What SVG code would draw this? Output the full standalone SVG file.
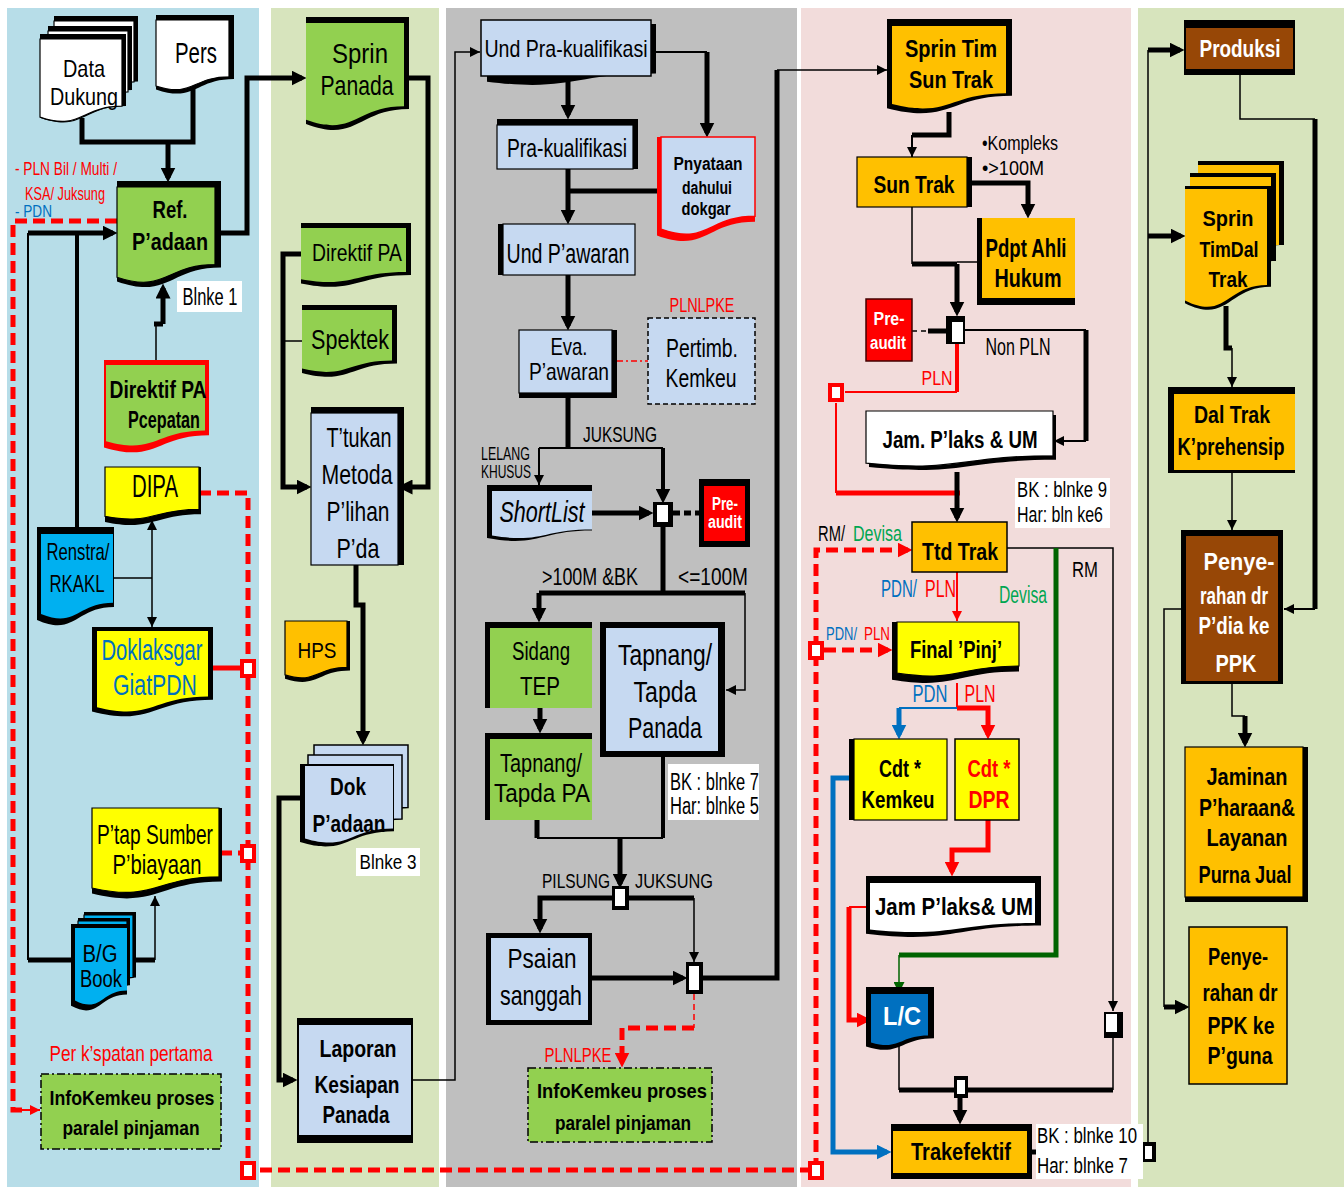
<svg xmlns="http://www.w3.org/2000/svg" width="1344" height="1187" viewBox="0 0 1344 1187">
<defs>
<style>
text{font-family:"Liberation Sans",Arial,Helvetica,sans-serif;text-anchor:middle;fill:#000}
.b{font-weight:bold}
.i{font-style:italic}
.s{text-anchor:start}
.tw{fill:#fff}
.tr{fill:#f00}
.tb{fill:#0070c0}
.tg{fill:#00a651}
.K{fill:#000}
.R{fill:#f00}
.gr{fill:#92d050}
.lb{fill:#c6d9f1}
.ye{fill:#ff0}
.or{fill:#ffc000}
.cy{fill:#00b0f0}
.bl{fill:#0070c0}
.br{fill:#974706}
.wh{fill:#fff}
.st{stroke:#000;stroke-width:1.2}
.sr{stroke:#f00;stroke-width:1.5}
.dd{stroke:#000;stroke-width:1.5;stroke-dasharray:8 3 2 3}
.dsh{stroke:#000;stroke-width:1.5;stroke-dasharray:5 3}
.c5,.c4,.c2,.c1,.kd5,.kd1{fill:none;stroke:#000}
.c5{stroke-width:5}.c4{stroke-width:4}.c2{stroke-width:2}.c1{stroke-width:1.5}
.kd5{stroke-width:5;stroke-dasharray:7 4}.kd1{stroke-width:1.5;stroke-dasharray:5 4}
.r5,.r4,.r2,.rd5,.rd1,.rdd{fill:none;stroke:#f00}
.r5{stroke-width:5}.r4{stroke-width:4}.r2{stroke-width:2}.rd5{stroke-width:5;stroke-dasharray:12 6}.rd1{stroke-width:1.5;stroke-dasharray:6 4}.rdd{stroke-width:1.5;stroke-dasharray:6 3 2 3}
.u5,.u2{fill:none;stroke:#0070c0}.u5{stroke-width:5}.u2{stroke-width:2}
.g5,.g2{fill:none;stroke:#006400}.g5{stroke-width:5}.g2{stroke-width:1.5}
.jr{fill:#fff;stroke:#f00;stroke-width:4}
.lbl{fill:#fff}
</style>
<marker id="ak" viewBox="0 0 10 10" refX="7" refY="5" markerWidth="15" markerHeight="15" markerUnits="userSpaceOnUse" orient="auto"><path d="M0 0L10 5L0 10z" fill="#000"/></marker>
<marker id="as" viewBox="0 0 10 10" refX="10" refY="5" markerWidth="10" markerHeight="10" markerUnits="userSpaceOnUse" orient="auto"><path d="M0 0L10 5L0 10z" fill="#000"/></marker>
<marker id="asd" viewBox="0 0 10 10" refX="10" refY="5" markerWidth="10" markerHeight="10" markerUnits="userSpaceOnUse" orient="auto-start-reverse"><path d="M0 0L10 5L0 10z" fill="#000"/></marker>
<marker id="ar" viewBox="0 0 10 10" refX="7" refY="5" markerWidth="15" markerHeight="15" markerUnits="userSpaceOnUse" orient="auto"><path d="M0 0L10 5L0 10z" fill="#f00"/></marker>
<marker id="ars" viewBox="0 0 10 10" refX="10" refY="5" markerWidth="10" markerHeight="10" markerUnits="userSpaceOnUse" orient="auto"><path d="M0 0L10 5L0 10z" fill="#f00"/></marker>
<marker id="ab" viewBox="0 0 10 10" refX="7" refY="5" markerWidth="15" markerHeight="15" markerUnits="userSpaceOnUse" orient="auto"><path d="M0 0L10 5L0 10z" fill="#0070c0"/></marker>
<marker id="ag" viewBox="0 0 10 10" refX="10" refY="5" markerWidth="11" markerHeight="11" markerUnits="userSpaceOnUse" orient="auto"><path d="M0 0L10 5L0 10z" fill="#006400"/></marker>
</defs>

<g id="lanes">
<rect x="7" y="8" width="252" height="1179" fill="#b7dde8"/>
<rect x="271" y="8" width="168" height="1179" fill="#d7e4bd"/>
<rect x="446" y="8" width="351" height="1179" fill="#bfbfbf"/>
<rect x="801" y="8" width="330" height="1179" fill="#f2dcdb"/>
<rect x="1138" y="8" width="206" height="1179" fill="#d7e4bd"/>
</g>

<g id="connectors">
<!-- column 1 -->
<path class="c5" d="M82 118V142H193V86"/>
<path class="c5" d="M168 142V178" marker-end="url(#ak)"/>
<path class="c5" d="M220 233H247V78H302" marker-end="url(#ak)"/>
<path class="c2" d="M28 960V233"/>
<path class="c5" d="M28 233H113" marker-end="url(#ak)"/>
<path class="c4" d="M77 528V233"/>
<path class="c5" d="M28 960H72"/>
<path class="c5" d="M127 960H155"/>
<path class="c1" d="M155 960V896" marker-end="url(#as)"/>
<path class="c1" d="M156 362V324"/>
<path class="c5" d="M154 324H163"/>
<path class="c5" d="M163 324V288" marker-end="url(#ak)"/>
<path class="c1" d="M113 578H152"/>
<path class="c1" d="M152 520V627" marker-start="url(#asd)" marker-end="url(#asd)"/>
<path class="rd5" d="M117 221H13V1110H22"/>
<path class="r2" d="M22 1110H40" marker-end="url(#ars)"/>
<path class="rd5" d="M199 493H248V1170H816"/>
<path class="r5" d="M212 668H242"/>
<path class="rd5" d="M220 853H242"/>
<!-- column 2 -->
<path class="c5" d="M404 78H428V487H402" marker-end="url(#ak)"/>
<path class="c5" d="M301 254H283V487H307" marker-end="url(#ak)"/>
<path class="c1" d="M302 341H283"/>
<path class="c5" d="M356 565V605H363V741" marker-end="url(#ak)"/>
<path class="c5" d="M302 798H279V1080H293" marker-end="url(#ak)"/>
<path class="c1" d="M413 1080H455V52H480" marker-end="url(#as)"/>
<!-- column 3 -->
<path class="c5" d="M568 76V115" marker-end="url(#ak)"/>
<path class="c2" d="M651 52H707"/>
<path class="c5" d="M707 52V133" marker-end="url(#ak)"/>
<path class="c5" d="M568 169V220" marker-end="url(#ak)"/>
<path class="c5" d="M568 191H661"/>
<path class="c5" d="M568 275V326" marker-end="url(#ak)"/>
<path class="rdd" d="M617 361H648"/>
<path class="c5" d="M568 398V448"/>
<path class="c2" d="M539 448H663"/>
<path class="c2" d="M539 448V485" marker-end="url(#as)"/>
<path class="c4" d="M663 448V499" marker-end="url(#ak)"/>
<path class="c5" d="M592 513H649" marker-end="url(#ak)"/>
<path class="kd5" d="M673 513H700"/>
<path class="c5" d="M663 527V593"/>
<path class="c5" d="M539 593H745"/>
<path class="c5" d="M539 593V618" marker-end="url(#ak)"/>
<path class="c1" d="M745 593V690H726" marker-end="url(#as)"/>
<path class="c5" d="M540 708V729" marker-end="url(#ak)"/>
<path class="c5" d="M537 820V838"/>
<path class="c2" d="M537 838H663"/>
<path class="c4" d="M663 757V838"/>
<path class="c5" d="M620 838V884" marker-end="url(#ak)"/>
<path class="c5" d="M613 898H540V929" marker-end="url(#ak)"/>
<path class="c5" d="M627 898H694"/>
<path class="c1" d="M694 898V962" marker-end="url(#as)"/>
<path class="c5" d="M592 978H683" marker-end="url(#ak)"/>
<path class="c5" d="M703 978H777V70"/>
<path class="c1" d="M777 70H887" marker-end="url(#as)"/>
<path class="rd1" d="M694 994V1028"/>
<path class="rd5" d="M694 1028H622V1063" marker-end="url(#ar)"/>
<!-- column 4 -->
<path class="c5" d="M949 112V135H912"/>
<path class="c2" d="M912 135V157" marker-end="url(#as)"/>
<path class="c5" d="M972 183H1028V214" marker-end="url(#ak)"/>
<path class="c1" d="M912 207V264"/>
<path class="c5" d="M912 264H957"/>
<path class="c1" d="M957 262H977"/>
<path class="c5" d="M957 264V312" marker-end="url(#ak)"/>
<path class="kd1" d="M912 331H930"/>
<path class="c5" d="M928 331H946"/>
<path class="c2" d="M965 330H1086"/>
<path class="c5" d="M1086 330V441"/>
<path class="c2" d="M1086 441H1054" marker-end="url(#as)"/>
<path class="r4" d="M957 344V392"/>
<path class="r2" d="M957 392H845"/>
<path class="r2" d="M836 403V493"/>
<path class="r5" d="M836 493H960"/>
<path class="c5" d="M957 472V518" marker-end="url(#ak)"/>
<path class="rd5" d="M816 1170V550H908" marker-end="url(#ar)"/>
<path class="rd5" d="M824 650H888" marker-end="url(#ar)"/>
<path class="r2" d="M957 572V621" marker-end="url(#ars)"/>
<path class="c1" d="M1007 548H1113V1011" marker-end="url(#as)"/>
<path class="g5" d="M1056 548V955H899"/>
<path class="g2" d="M899 955V993" marker-end="url(#ag)"/>
<path class="r2" d="M957 683V708"/>
<path class="u2" d="M957 708H899"/>
<path class="u5" d="M899 708V735" marker-end="url(#ab)"/>
<path class="r5" d="M957 708H988V735" marker-end="url(#ar)"/>
<path class="u5" d="M849 778H833V1152H887" marker-end="url(#ab)"/>
<path class="r5" d="M988 820V850H952V872" marker-end="url(#ar)"/>
<path class="r2" d="M870 907H849"/>
<path class="r5" d="M849 907V1020H867" marker-end="url(#ar)"/>
<path class="c1" d="M899 1046V1090"/>
<path class="c5" d="M899 1090H1113"/>
<path class="c1" d="M1113 1038V1090"/>
<path class="c5" d="M960 1098V1120" marker-end="url(#ak)"/>
<path class="c5" d="M1031 1152H1143"/>
<!-- column 5 -->
<path class="c1" d="M1148 1142V50"/>
<path class="c5" d="M1148 50H1180" marker-end="url(#ak)"/>
<path class="c5" d="M1148 236H1181" marker-end="url(#ak)"/>
<path class="c1" d="M1240 75V119H1315"/>
<path class="c5" d="M1315 119V609"/>
<path class="c2" d="M1315 609H1284" marker-end="url(#as)"/>
<path class="c5" d="M1226 306V348H1232"/>
<path class="c1" d="M1232 348V387" marker-end="url(#as)"/>
<path class="c1" d="M1232 473V530" marker-end="url(#as)"/>
<path class="c1" d="M1232 684V716H1245"/>
<path class="c5" d="M1245 716V743" marker-end="url(#ak)"/>
<path class="c1" d="M1181 609H1164V1007"/>
<path class="c5" d="M1164 1007H1185" marker-end="url(#ak)"/>
<!-- junctions -->
<rect class="jr" x="242" y="661" width="12" height="15"/>
<rect class="jr" x="242" y="846" width="12" height="15"/>
<rect class="jr" x="242" y="1163" width="12" height="15"/>
<rect class="jr" x="810" y="1163" width="12" height="15"/>
<rect class="jr" x="810" y="643" width="12" height="15"/>
<rect class="jr" x="830" y="385" width="12" height="15"/>
<rect x="653" y="502" width="20" height="25" fill="#000"/><rect x="657" y="505" width="11" height="17" fill="#fff"/>
<rect x="612" y="886" width="17" height="24" fill="#000"/><rect x="615" y="889" width="10" height="17" fill="#fff"/>
<rect x="686" y="962" width="17" height="32" fill="#000"/><rect x="689" y="966" width="10" height="24" fill="#fff"/>
<rect x="946" y="316" width="19" height="28" fill="#000"/><rect x="952" y="322" width="11" height="20" fill="#fff"/>
<rect x="1104" y="1012" width="19" height="26" fill="#000"/><rect x="1106" y="1014" width="11" height="18" fill="#fff"/>
<rect x="954" y="1076" width="14" height="22" fill="#000"/><rect x="957" y="1080" width="8" height="14" fill="#fff"/>
<rect x="1143" y="1142" width="13" height="20" fill="#000"/><rect x="1145" y="1146" width="7" height="13" fill="#fff"/>
</g>

<!-- ===== column 1 nodes ===== -->
<g id="n-datadukung">
<path class="K" d="M54 16h84v65.6c-42 0-42 24.6-84 10.7z"/>
<path class="wh st" d="M54 21h80v60.8c-40 0-40 22.8-80 9.9z"/>
<path class="K" d="M48 26h84v64c-42 0-42 24-84 10.4z"/>
<path class="wh st" d="M48 31h80v60.8c-40 0-40 22.8-80 9.9z"/>
<path class="K" d="M40 34h86v72c-43 0-43 27-86 11.7z"/>
<path class="wh st" d="M40 39h82v67.2c-41 0-41 25.2-82 10.9z"/>
<text x="84" y="77" font-size="24" textLength="42" lengthAdjust="spacingAndGlyphs">Data</text>
<text x="84" y="105" font-size="24" textLength="68" lengthAdjust="spacingAndGlyphs">Dukung</text>
</g>
<g id="n-pers">
<path class="K" d="M156 15h78v64c-39 0-39 24-78 10.4z"/>
<path class="wh st" d="M156 20h73v56.8c-36.5 0-36.5 21.3-73 9.2z"/>
<text x="196" y="63" font-size="29" textLength="42" lengthAdjust="spacingAndGlyphs">Pers</text>
</g>
<g id="n-ref">
<path class="K" d="M117 181h104v86.4c-52 0-52 32.4-104 14z"/>
<path class="gr st" d="M117 187h98v77.6c-49 0-49 29.1-98 12.6z"/>
<text class="b" x="170" y="218" font-size="23" textLength="35" lengthAdjust="spacingAndGlyphs">Ref.</text>
<text class="b" x="170" y="250" font-size="23" textLength="76" lengthAdjust="spacingAndGlyphs">P’adaan</text>
</g>
<g id="lbl-blnke1">
<rect class="lbl" x="177" y="281" width="65" height="31"/>
<text x="210" y="305" font-size="23" textLength="55" lengthAdjust="spacingAndGlyphs">Blnke 1</text>
</g>
<g id="lbl-pln">
<text class="s tr" x="15" y="175" font-size="19" textLength="102" lengthAdjust="spacingAndGlyphs">- PLN Bil / Multi /</text>
<text class="s tr" x="25" y="200" font-size="19" textLength="80" lengthAdjust="spacingAndGlyphs">KSA/ Juksung</text>
<text class="s tb" x="15" y="217" font-size="17" textLength="37" lengthAdjust="spacingAndGlyphs">- PDN</text>
</g>
<g id="n-direktif-pcepatan">
<path class="R" d="M104 360h105v75.2c-52.5 0-52.5 28.2-105 12.2z"/>
<path class="gr" d="M106 365h99v65.6c-49.5 0-49.5 24.6-99 10.7z"/>
<text class="b" x="158" y="398" font-size="24" textLength="97" lengthAdjust="spacingAndGlyphs">Direktif PA</text>
<text class="b" x="164" y="428" font-size="24" textLength="72" lengthAdjust="spacingAndGlyphs">Pcepatan</text>
</g>
<g id="n-dipa">
<path class="K" d="M105 467h96v47.2c-48 0-48 17.7-96 7.7z"/>
<path class="ye st" d="M105 467h94v42.4c-47 0-47 15.9-94 6.9z"/>
<text x="155" y="497" font-size="31" textLength="46" lengthAdjust="spacingAndGlyphs">DIPA</text>
</g>
<g id="n-renstra">
<path class="K" d="M37 527h77v80c-38.5 0-38.5 30-77 13z"/>
<path class="cy" d="M41 534h72v68.8c-36 0-36 25.8-72 11.2z"/>
<text x="78" y="560" font-size="24" textLength="63" lengthAdjust="spacingAndGlyphs">Renstra/</text>
<text x="77" y="592" font-size="24" textLength="55" lengthAdjust="spacingAndGlyphs">RKAKL</text>
</g>
<g id="n-doklaksgar">
<path class="K" d="M92 627h121v72.8c-60.5 0-60.5 27.3-121 11.8z"/>
<path class="ye" d="M97 631h111v65.6c-55.5 0-55.5 24.6-111 10.7z"/>
<text class="tb" x="152" y="660" font-size="29" textLength="101" lengthAdjust="spacingAndGlyphs">Doklaksgar</text>
<text class="tb" x="155" y="695" font-size="29" textLength="84" lengthAdjust="spacingAndGlyphs">GiatPDN</text>
</g>
<g id="n-ptap">
<path class="K" d="M92 808h130v73.6c-65 0-65 27.6-130 12z"/>
<path class="ye st" d="M92 808h127v68.8c-63.5 0-63.5 25.8-127 11.2z"/>
<text x="155" y="844" font-size="28" textLength="116" lengthAdjust="spacingAndGlyphs">P’tap Sumber</text>
<text x="157" y="874" font-size="28" textLength="89" lengthAdjust="spacingAndGlyphs">P’biayaan</text>
</g>
<g id="n-bgbook">
<path class="K" d="M84 912h52v65.6c-26 0-26 24.6-52 10.7z"/>
<path class="cy st" d="M84 915h49v62.4c-24.5 0-24.5 23.4-49 10.1z"/>
<path class="K" d="M78 918h52v67.2c-26 0-26 25.2-52 10.9z"/>
<path class="cy st" d="M78 921h49v64c-24.5 0-24.5 24-49 10.4z"/>
<path class="K" d="M71 924h56v70.4c-28 0-28 26.4-56 11.4z"/>
<path class="cy" d="M75 928h52v62.4c-26 0-26 23.4-52 10.1z"/>
<text x="100" y="962" font-size="23" textLength="35" lengthAdjust="spacingAndGlyphs">B/G</text>
<text x="101" y="987" font-size="23" textLength="42" lengthAdjust="spacingAndGlyphs">Book</text>
</g>
<g id="lbl-perkspatan">
<text class="tr" x="131" y="1061" font-size="22" textLength="163" lengthAdjust="spacingAndGlyphs">Per k’spatan pertama</text>
</g>
<g id="n-infokemkeu1">
<rect class="gr dd" x="41" y="1074" width="180" height="75"/>
<text class="b" x="132" y="1105" font-size="21" textLength="165" lengthAdjust="spacingAndGlyphs">InfoKemkeu proses</text>
<text class="b" x="131" y="1135" font-size="21" textLength="137" lengthAdjust="spacingAndGlyphs">paralel pinjaman</text>
</g>

<!-- ===== column 2 nodes ===== -->
<g id="n-sprinpanada">
<path class="K" d="M306 17h103v92c-51.5 0-51.5 34.5-103 15z"/>
<path class="gr" d="M306 23h98v83.2c-49 0-49 31.2-98 13.5z"/>
<text x="360" y="63" font-size="28" textLength="56" lengthAdjust="spacingAndGlyphs">Sprin</text>
<text x="357" y="95" font-size="28" textLength="73" lengthAdjust="spacingAndGlyphs">Panada</text>
</g>
<g id="n-direktifpa">
<path class="K" d="M301 223h110v52c-55 0-55 19.5-110 8.5z"/>
<path class="gr" d="M301 228h105v44c-52.5 0-52.5 16.5-105 7.2z"/>
<text x="357" y="261" font-size="24" textLength="90" lengthAdjust="spacingAndGlyphs">Direktif PA</text>
</g>
<g id="n-spektek">
<path class="K" d="M302 305h95v58.4c-47.5 0-47.5 21.9-95 9.5z"/>
<path class="gr" d="M302 310h90v50.4c-45 0-45 18.9-90 8.2z"/>
<text x="350" y="349" font-size="28" textLength="78" lengthAdjust="spacingAndGlyphs">Spektek</text>
</g>
<g id="n-ttukan">
<rect class="K" x="311" y="407" width="93" height="158"/>
<rect class="lb st" x="311" y="413" width="87" height="152"/>
<text x="359" y="447" font-size="28" textLength="65" lengthAdjust="spacingAndGlyphs">T’tukan</text>
<text x="357" y="484" font-size="28" textLength="71" lengthAdjust="spacingAndGlyphs">Metoda</text>
<text x="358" y="521" font-size="28" textLength="63" lengthAdjust="spacingAndGlyphs">P’lihan</text>
<text x="358" y="558" font-size="28" textLength="43" lengthAdjust="spacingAndGlyphs">P’da</text>
</g>
<g id="n-hps">
<path class="K" d="M285 621h65v49.6c-32.5 0-32.5 18.6-65 8.1z"/>
<path class="or st" d="M285 621h62v46.4c-31 0-31 17.4-62 7.5z"/>
<text x="317" y="658" font-size="22" textLength="39" lengthAdjust="spacingAndGlyphs">HPS</text>
</g>
<g id="n-dokpadaan">
<path class="lb" stroke="#000" stroke-width="1.5" d="M314 745h94v62.4c-47 0-47 23.4-94 10.1z"/>
<path class="lb" stroke="#000" stroke-width="1.5" d="M308 755h94v64c-47 0-47 24-94 10.4z"/>
<path class="K" d="M300 764h94v67.2c-47 0-47 25.2-94 10.9z"/>
<path class="lb" d="M305 766h88v62.4c-44 0-44 23.4-88 10.1z"/>
<text class="b" x="348" y="795" font-size="23" textLength="36" lengthAdjust="spacingAndGlyphs">Dok</text>
<text class="b" x="349" y="832" font-size="23" textLength="73" lengthAdjust="spacingAndGlyphs">P’adaan</text>
</g>
<g id="lbl-blnke3">
<rect class="lbl" x="356" y="848" width="64" height="28"/>
<text x="388" y="869" font-size="21" textLength="57" lengthAdjust="spacingAndGlyphs">Blnke 3</text>
</g>
<g id="n-laporan">
<rect class="K" x="297" y="1018" width="116" height="125"/>
<rect class="lb" x="299" y="1025" width="112" height="110"/>
<text class="b" x="358" y="1057" font-size="23" textLength="77" lengthAdjust="spacingAndGlyphs">Laporan</text>
<text class="b" x="357" y="1093" font-size="23" textLength="85" lengthAdjust="spacingAndGlyphs">Kesiapan</text>
<text class="b" x="356" y="1123" font-size="23" textLength="67" lengthAdjust="spacingAndGlyphs">Panada</text>
</g>

<!-- ===== column 3 nodes ===== -->
<g id="n-undpra">
<path class="K" d="M487 24h169v49.6c-84.5 0-84.5 18.6-169 8.1z"/>
<rect class="lb" stroke="#000" stroke-width="1.5" x="481" y="20" width="170" height="56"/>
<text x="566" y="57" font-size="24" textLength="163" lengthAdjust="spacingAndGlyphs">Und Pra-kualifikasi</text>
</g>
<g id="n-prakualifikasi">
<rect class="K" x="497" y="119" width="141" height="50"/>
<rect class="lb" stroke="#000" stroke-width="1.2" x="497" y="125" width="136" height="44"/>
<text x="567" y="157" font-size="26" textLength="120" lengthAdjust="spacingAndGlyphs">Pra-kualifikasi</text>
</g>
<g id="n-pnyataan">
<path class="R" d="M657 137h98v84.8c-49 0-49 31.8-98 13.8z"/>
<path class="lb sr" d="M661 137h94v79.2c-47 0-47 29.7-94 12.9z"/>
<text class="b" x="708" y="170" font-size="18" textLength="69" lengthAdjust="spacingAndGlyphs">Pnyataan</text>
<text class="b" x="707" y="194" font-size="18" textLength="50" lengthAdjust="spacingAndGlyphs">dahului</text>
<text class="b" x="706" y="215" font-size="18" textLength="49" lengthAdjust="spacingAndGlyphs">dokgar</text>
</g>
<g id="n-undpawaran">
<rect class="K" x="498" y="224" width="137" height="51"/>
<rect class="lb" stroke="#000" stroke-width="1.2" x="503" y="224" width="132" height="51"/>
<text x="568" y="263" font-size="27" textLength="123" lengthAdjust="spacingAndGlyphs">Und P’awaran</text>
</g>
<g id="n-evapawaran">
<rect class="K" x="519" y="330" width="98" height="68"/>
<rect class="lb" stroke="#000" stroke-width="1.2" x="519" y="330" width="93" height="63"/>
<text x="569" y="355" font-size="24" textLength="37" lengthAdjust="spacingAndGlyphs">Eva.</text>
<text x="569" y="380" font-size="24" textLength="80" lengthAdjust="spacingAndGlyphs">P’awaran</text>
</g>
<g id="n-pertimb">
<text class="tr" x="702" y="312" font-size="21" textLength="65" lengthAdjust="spacingAndGlyphs">PLNLPKE</text>
<rect class="lb dsh" x="648" y="318" width="107" height="86"/>
<text x="702" y="357" font-size="26" textLength="72" lengthAdjust="spacingAndGlyphs">Pertimb.</text>
<text x="701" y="387" font-size="26" textLength="71" lengthAdjust="spacingAndGlyphs">Kemkeu</text>
</g>
<g id="lbl-juksung1">
<text x="620" y="442" font-size="22" textLength="74" lengthAdjust="spacingAndGlyphs">JUKSUNG</text>
<text class="s" x="481" y="460" font-size="18" textLength="49" lengthAdjust="spacingAndGlyphs">LELANG</text>
<text class="s" x="481" y="478" font-size="18" textLength="50" lengthAdjust="spacingAndGlyphs">KHUSUS</text>
</g>
<g id="n-shortlist">
<path class="K" d="M487 485h105v45.6c-52.5 0-52.5 17.1-105 7.4z"/>
<path class="lb" d="M492 491h100v38.4c-50 0-50 14.4-100 6.2z"/>
<text class="i" x="542" y="522" font-size="30" textLength="85" lengthAdjust="spacingAndGlyphs">ShortList</text>
</g>
<g id="n-preaudit1">
<rect class="K" x="699" y="479" width="51" height="68"/>
<rect class="R" x="704" y="486" width="41" height="55"/>
<text class="b tw" x="725" y="510" font-size="18" textLength="26" lengthAdjust="spacingAndGlyphs">Pre-</text>
<text class="b tw" x="725" y="528" font-size="18" textLength="34" lengthAdjust="spacingAndGlyphs">audit</text>
</g>
<g id="lbl-100m">
<text x="590" y="585" font-size="23" textLength="96" lengthAdjust="spacingAndGlyphs">&gt;100M &amp;BK</text>
<text x="713" y="585" font-size="23" textLength="70" lengthAdjust="spacingAndGlyphs">&lt;=100M</text>
</g>
<g id="n-sidangtep">
<rect class="K" x="485" y="622" width="107" height="86"/>
<rect class="gr" x="490" y="628" width="102" height="80"/>
<text x="541" y="660" font-size="25" textLength="58" lengthAdjust="spacingAndGlyphs">Sidang</text>
<text x="540" y="695" font-size="25" textLength="40" lengthAdjust="spacingAndGlyphs">TEP</text>
</g>
<g id="n-tapnangpa">
<rect class="K" x="485" y="733" width="107" height="87"/>
<rect class="gr" x="490" y="739" width="102" height="81"/>
<text x="541" y="772" font-size="26" textLength="82" lengthAdjust="spacingAndGlyphs">Tapnang/</text>
<text x="542" y="802" font-size="26" textLength="96" lengthAdjust="spacingAndGlyphs">Tapda PA</text>
</g>
<g id="n-tapnangpanada">
<rect class="K" x="600" y="622" width="125" height="135"/>
<rect class="lb" x="606" y="628" width="112" height="123"/>
<text x="665" y="665" font-size="30" textLength="94" lengthAdjust="spacingAndGlyphs">Tapnang/</text>
<text x="665" y="702" font-size="30" textLength="63" lengthAdjust="spacingAndGlyphs">Tapda</text>
<text x="665" y="738" font-size="30" textLength="74" lengthAdjust="spacingAndGlyphs">Panada</text>
</g>
<g id="lbl-bk7">
<rect class="lbl" x="668" y="764" width="91" height="56"/>
<text class="s" x="670" y="790" font-size="23" textLength="89" lengthAdjust="spacingAndGlyphs">BK : blnke 7</text>
<text class="s" x="670" y="814" font-size="23" textLength="89" lengthAdjust="spacingAndGlyphs">Har: blnke 5</text>
</g>
<g id="lbl-pilsung">
<text x="576" y="888" font-size="21" textLength="68" lengthAdjust="spacingAndGlyphs">PILSUNG</text>
<text x="674" y="888" font-size="21" textLength="78" lengthAdjust="spacingAndGlyphs">JUKSUNG</text>
</g>
<g id="n-psaian">
<rect class="K" x="486" y="933" width="106" height="92"/>
<rect class="lb" x="491" y="938" width="97" height="82"/>
<text x="542" y="968" font-size="28" textLength="69" lengthAdjust="spacingAndGlyphs">Psaian</text>
<text x="541" y="1005" font-size="28" textLength="82" lengthAdjust="spacingAndGlyphs">sanggah</text>
</g>
<g id="n-infokemkeu2">
<text class="tr" x="578" y="1062" font-size="21" textLength="67" lengthAdjust="spacingAndGlyphs">PLNLPKE</text>
<rect class="gr dd" x="528" y="1068" width="184" height="74"/>
<text class="b" x="622" y="1098" font-size="21" textLength="170" lengthAdjust="spacingAndGlyphs">InfoKemkeu proses</text>
<text class="b" x="623" y="1130" font-size="21" textLength="136" lengthAdjust="spacingAndGlyphs">paralel pinjaman</text>
</g>

<!-- ===== column 4 nodes ===== -->
<g id="n-sprintim">
<path class="K" d="M887 19h125v76.8c-62.5 0-62.5 28.8-125 12.5z"/>
<path class="or" d="M892 26h114v67.2c-57 0-57 25.2-114 10.9z"/>
<text class="b" x="951" y="57" font-size="24" textLength="92" lengthAdjust="spacingAndGlyphs">Sprin Tim</text>
<text class="b" x="951" y="88" font-size="24" textLength="84" lengthAdjust="spacingAndGlyphs">Sun Trak</text>
</g>
<g id="n-suntrak">
<rect class="K" x="857" y="157" width="115" height="50"/>
<rect class="or st" x="857" y="157" width="110" height="50"/>
<text class="b" x="914" y="193" font-size="24" textLength="81" lengthAdjust="spacingAndGlyphs">Sun Trak</text>
</g>
<g id="lbl-kompleks">
<text class="s" x="982" y="150" font-size="21" textLength="76" lengthAdjust="spacingAndGlyphs">•Kompleks</text>
<text class="s" x="982" y="175" font-size="21" textLength="62" lengthAdjust="spacingAndGlyphs">•&gt;100M</text>
</g>
<g id="n-pdpt">
<rect class="K" x="977" y="218" width="98" height="87"/>
<rect class="or" x="982" y="218" width="93" height="80"/>
<text class="b" x="1026" y="257" font-size="25" textLength="81" lengthAdjust="spacingAndGlyphs">Pdpt Ahli</text>
<text class="b" x="1028" y="287" font-size="25" textLength="67" lengthAdjust="spacingAndGlyphs">Hukum</text>
</g>
<g id="n-preaudit2">
<rect class="R" stroke="#400" stroke-width="1.5" x="866" y="299" width="46" height="62"/>
<text class="b tw" x="889" y="325" font-size="18" textLength="31" lengthAdjust="spacingAndGlyphs">Pre-</text>
<text class="b tw" x="888" y="349" font-size="18" textLength="36" lengthAdjust="spacingAndGlyphs">audit</text>
</g>
<g id="lbl-nonpln">
<text x="1018" y="355" font-size="23" textLength="65" lengthAdjust="spacingAndGlyphs">Non PLN</text>
<text class="tr" x="937" y="385" font-size="21" textLength="31" lengthAdjust="spacingAndGlyphs">PLN</text>
</g>
<g id="n-jamplaks1">
<path class="K" d="M869 415h187v44.8c-93.5 0-93.5 16.8-187 7.3z"/>
<path class="wh st" d="M866 411h187v44.8c-93.5 0-93.5 16.8-187 7.3z"/>
<text class="b" x="960" y="448" font-size="23" textLength="155" lengthAdjust="spacingAndGlyphs">Jam. P’laks &amp; UM</text>
</g>
<g id="lbl-bk9">
<rect class="lbl" x="1015" y="478" width="95" height="50"/>
<text class="s" x="1017" y="497" font-size="22" textLength="90" lengthAdjust="spacingAndGlyphs">BK : blnke 9</text>
<text class="s" x="1017" y="522" font-size="22" textLength="86" lengthAdjust="spacingAndGlyphs">Har: bln ke6</text>
</g>
<g id="n-ttdtrak">
<rect class="or" stroke="#000" stroke-width="1.5" x="912" y="522" width="95" height="50"/>
<text class="b" x="960" y="560" font-size="24" textLength="76" lengthAdjust="spacingAndGlyphs">Ttd Trak</text>
</g>
<g id="lbl-rmdevisa">
<text class="s" x="818" y="541" font-size="22" textLength="27" lengthAdjust="spacingAndGlyphs">RM/</text>
<text class="s tg" x="853" y="541" font-size="22" textLength="49" lengthAdjust="spacingAndGlyphs">Devisa</text>
<text x="1085" y="577" font-size="22" textLength="26" lengthAdjust="spacingAndGlyphs">RM</text>
<text class="tg" x="1023" y="603" font-size="23" textLength="48" lengthAdjust="spacingAndGlyphs">Devisa</text>
<text class="s tb" x="881" y="597" font-size="23" textLength="36" lengthAdjust="spacingAndGlyphs">PDN/</text>
<text class="s tr" x="925" y="597" font-size="23" textLength="31" lengthAdjust="spacingAndGlyphs">PLN</text>
<text class="s tb" x="826" y="640" font-size="18" textLength="31" lengthAdjust="spacingAndGlyphs">PDN/</text>
<text class="s tr" x="864" y="640" font-size="18" textLength="26" lengthAdjust="spacingAndGlyphs">PLN</text>
</g>
<g id="n-final">
<path class="K" d="M892 622h127v49.6c-63.5 0-63.5 18.6-127 8.1z"/>
<path class="ye st" d="M897 622h122v44c-61 0-61 16.5-122 7.2z"/>
<text class="b" x="956" y="658" font-size="23" textLength="92" lengthAdjust="spacingAndGlyphs">Final ’Pinj’</text>
</g>
<g id="lbl-pdnpln">
<text class="tb" x="930" y="702" font-size="23" textLength="35" lengthAdjust="spacingAndGlyphs">PDN</text>
<text class="tr" x="980" y="702" font-size="23" textLength="31" lengthAdjust="spacingAndGlyphs">PLN</text>
</g>
<g id="n-cdtkemkeu">
<rect class="K" x="849" y="739" width="98" height="81"/>
<rect class="ye st" x="854" y="739" width="93" height="81"/>
<text class="b" x="900" y="777" font-size="23" textLength="42" lengthAdjust="spacingAndGlyphs">Cdt *</text>
<text class="b" x="898" y="808" font-size="23" textLength="73" lengthAdjust="spacingAndGlyphs">Kemkeu</text>
</g>
<g id="n-cdtdpr">
<rect class="ye" stroke="#000" stroke-width="1.5" x="955" y="739" width="64" height="81"/>
<text class="b tr" x="989" y="777" font-size="23" textLength="43" lengthAdjust="spacingAndGlyphs">Cdt *</text>
<text class="b tr" x="989" y="808" font-size="23" textLength="41" lengthAdjust="spacingAndGlyphs">DPR</text>
</g>
<g id="n-jamplaks2">
<path class="K" d="M866 876h175v49.6c-87.5 0-87.5 18.6-175 8.1z"/>
<path class="wh" d="M870 883h165v40c-82.5 0-82.5 15-165 6.5z"/>
<text class="b" x="954" y="915" font-size="23" textLength="158" lengthAdjust="spacingAndGlyphs">Jam P’laks&amp; UM</text>
</g>
<g id="n-lc">
<path class="K" d="M866 987h68v51.2c-34 0-34 19.2-68 8.3z"/>
<path class="bl" d="M871 994h57v41.6c-28.5 0-28.5 15.6-57 6.8z"/>
<text class="b tw" x="902" y="1025" font-size="26" textLength="38" lengthAdjust="spacingAndGlyphs">L/C</text>
</g>
<g id="n-trakefektif">
<rect class="K" x="891" y="1124" width="141" height="55"/>
<rect class="or" x="893" y="1131" width="134" height="42"/>
<text class="b" x="961" y="1160" font-size="24" textLength="100" lengthAdjust="spacingAndGlyphs">Trakefektif</text>
</g>
<g id="lbl-bk10">
<rect class="lbl" x="1036" y="1124" width="107" height="55"/>
<text class="s" x="1037" y="1143" font-size="22" textLength="100" lengthAdjust="spacingAndGlyphs">BK : blnke 10</text>
<text class="s" x="1037" y="1173" font-size="22" textLength="91" lengthAdjust="spacingAndGlyphs">Har: blnke 7</text>
</g>

<!-- ===== column 5 nodes ===== -->
<g id="n-produksi">
<rect class="K" x="1184" y="20" width="111" height="55"/>
<rect class="br" x="1186" y="28" width="107" height="41"/>
<text class="b tw" x="1240" y="57" font-size="23" textLength="81" lengthAdjust="spacingAndGlyphs">Produksi</text>
</g>
<g id="n-sprintimdal">
<path class="K" d="M1198 161h86v84c-43 0-43 31.5-86 13.7z"/>
<path class="or" d="M1198 165h81v80c-40.5 0-40.5 30-81 13z"/>
<path class="K" d="M1190 173h86v88c-43 0-43 33-86 14.3z"/>
<path class="or" d="M1190 177h81v84c-40.5 0-40.5 31.5-81 13.7z"/>
<path class="K" d="M1185 186h86v100.8c-43 0-43 37.8-86 16.4z"/>
<path class="or" d="M1185 189h82v96c-41 0-41 36-82 15.6z"/>
<text class="b" x="1228" y="226" font-size="22" textLength="51" lengthAdjust="spacingAndGlyphs">Sprin</text>
<text class="b" x="1229" y="257" font-size="22" textLength="59" lengthAdjust="spacingAndGlyphs">TimDal</text>
<text class="b" x="1228" y="287" font-size="22" textLength="39" lengthAdjust="spacingAndGlyphs">Trak</text>
</g>
<g id="n-daltrak">
<rect class="K" x="1168" y="387" width="127" height="86"/>
<rect class="or" x="1174" y="394" width="121" height="76"/>
<text class="b" x="1232" y="423" font-size="23" textLength="76" lengthAdjust="spacingAndGlyphs">Dal Trak</text>
<text class="b" x="1231" y="455" font-size="23" textLength="107" lengthAdjust="spacingAndGlyphs">K’prehensip</text>
</g>
<g id="n-penyerahan1">
<rect class="K" x="1181" y="530" width="102" height="154"/>
<rect class="br" x="1186" y="536" width="92" height="145"/>
<text class="b tw" x="1239" y="570" font-size="23" textLength="71" lengthAdjust="spacingAndGlyphs">Penye-</text>
<text class="b tw" x="1234" y="604" font-size="23" textLength="68" lengthAdjust="spacingAndGlyphs">rahan dr</text>
<text class="b tw" x="1234" y="634" font-size="23" textLength="71" lengthAdjust="spacingAndGlyphs">P’dia ke</text>
<text class="b tw" x="1236" y="672" font-size="23" textLength="41" lengthAdjust="spacingAndGlyphs">PPK</text>
</g>
<g id="n-jaminan">
<rect class="K" x="1185" y="747" width="123" height="155"/>
<rect class="or st" x="1185" y="747" width="118" height="150"/>
<text class="b" x="1247" y="785" font-size="23" textLength="81" lengthAdjust="spacingAndGlyphs">Jaminan</text>
<text class="b" x="1247" y="816" font-size="23" textLength="96" lengthAdjust="spacingAndGlyphs">P’haraan&amp;</text>
<text class="b" x="1247" y="846" font-size="23" textLength="81" lengthAdjust="spacingAndGlyphs">Layanan</text>
<text class="b" x="1245" y="883" font-size="23" textLength="93" lengthAdjust="spacingAndGlyphs">Purna Jual</text>
</g>
<g id="n-penyerahan2">
<rect class="or" stroke="#000" stroke-width="1.5" x="1189" y="927" width="98" height="157"/>
<text class="b" x="1238" y="965" font-size="23" textLength="60" lengthAdjust="spacingAndGlyphs">Penye-</text>
<text class="b" x="1240" y="1001" font-size="23" textLength="75" lengthAdjust="spacingAndGlyphs">rahan dr</text>
<text class="b" x="1241" y="1034" font-size="23" textLength="67" lengthAdjust="spacingAndGlyphs">PPK ke</text>
<text class="b" x="1240" y="1064" font-size="23" textLength="65" lengthAdjust="spacingAndGlyphs">P’guna</text>
</g>
</svg>
